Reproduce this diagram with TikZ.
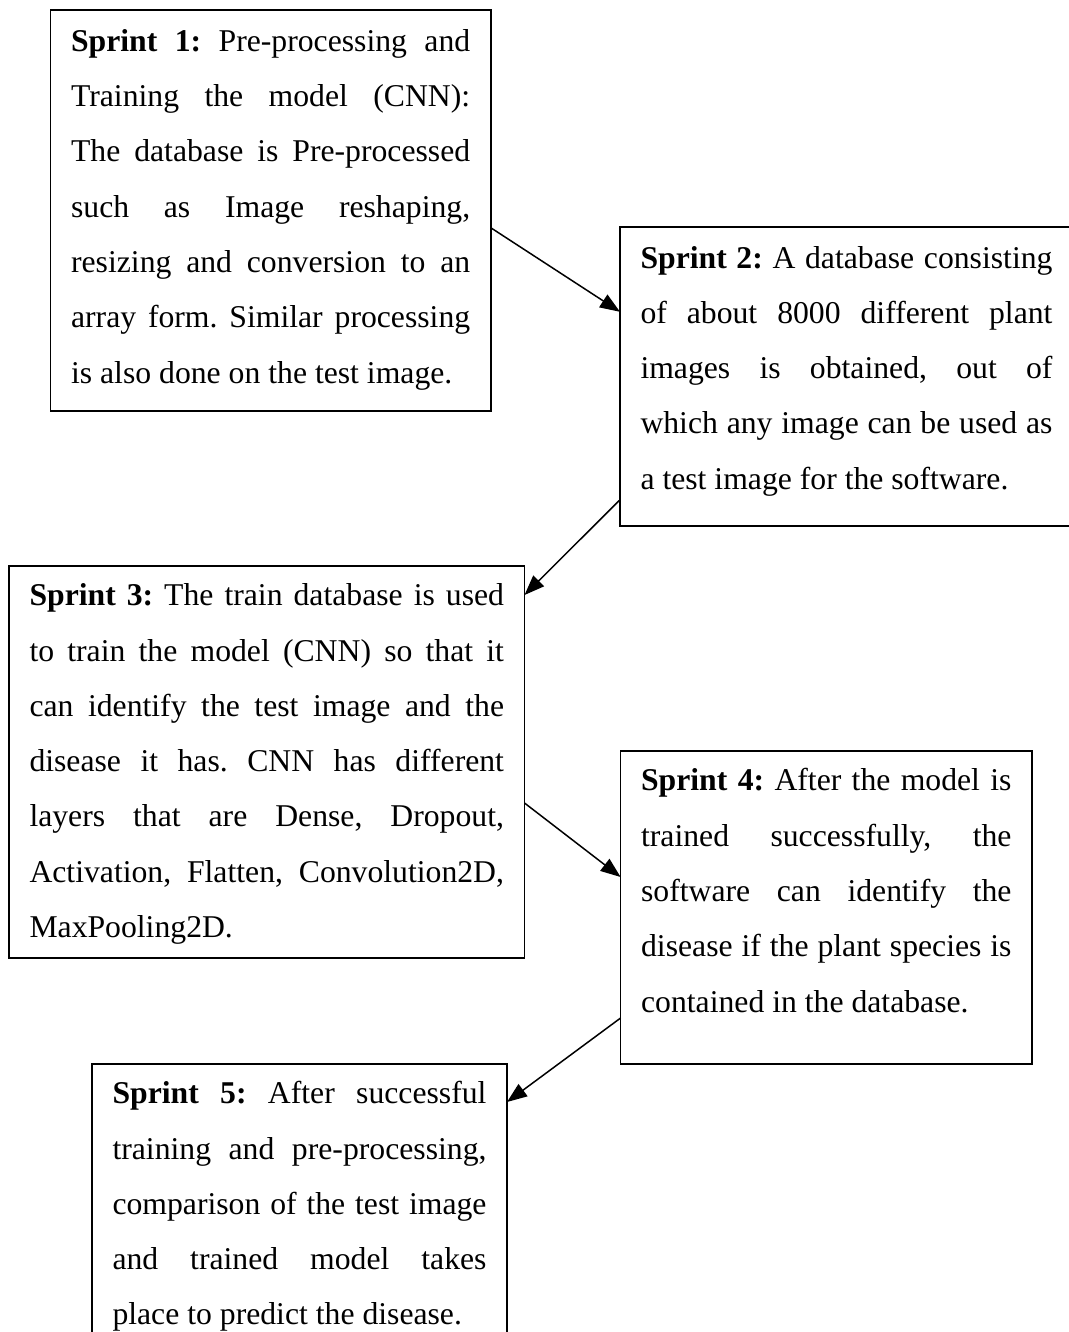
\documentclass[tikz,border=0pt]{standalone}
\usepackage{fontspec}
\setmainfont{Liberation Serif}
\usetikzlibrary{arrows.meta}
\newcommand\jl[1]{\hbox to\hsize{\strut #1}}
\newcommand\lastln[1]{\hbox to\hsize{\strut #1\hfil}}
\tikzset{
  sbox/.style={draw=black, line width=1.6pt, rectangle, anchor=north west, inner sep=0pt, outer sep=0pt},
  stext/.style={anchor=north west, inner sep=0pt, outer sep=0pt, font=\fontsize{31.7pt}{55.3pt}\selectfont\frenchspacing},
  flow/.style={line width=1.5pt, -{Triangle[length=20pt,width=15pt]}},
}
\begin{document}
\begin{tikzpicture}[x=1pt,y=-1pt]
\useasboundingbox (0,0) rectangle (1068,1332);
\fill[white] (0,0) rectangle (1068,1332);

% boxes
\node[sbox, minimum width=440.1pt, minimum height=400.7pt] (s1) at (50.6,10) {};
\node[sbox, minimum width=460pt, minimum height=298.7pt] (s2) at (620,227.3) {};
\node[sbox, minimum width=515.5pt, minimum height=392pt] (s3) at (9,566) {};
\node[sbox, minimum width=411.4pt, minimum height=313.3pt] (s4) at (620.6,750.7) {};
\node[sbox, minimum width=415pt, minimum height=336pt] (s5) at (92,1064) {};

% texts
\node[stext] (t1) at ([xshift=20.5pt,yshift=-2.5pt]s1.north west) {\parbox[t]{399.1pt}{%
\jl{\textbf{Sprint 1:} Pre-processing and}
\jl{Training the model (CNN):}
\jl{The database is Pre-processed}
\jl{such as Image reshaping,}
\jl{resizing and conversion to an}
\jl{array form. Similar processing}
\lastln{is also done on the test image.}}};

\node[stext] (t2) at ([xshift=20.5pt,yshift=-2pt]s2.north west) {\parbox[t]{412pt}{%
\jl{\textbf{Sprint 2:} A database consisting}
\jl{of about 8000 different plant}
\jl{images is obtained, out of}
\jl{which any image can be used as}
\lastln{a test image for the software.}}};

\node[stext] (t3) at ([xshift=20.5pt,yshift=-1pt]s3.north west) {\parbox[t]{474.5pt}{%
\jl{\textbf{Sprint 3:} The train database is used}
\jl{to train the model (CNN) so that it}
\jl{can identify the test image and the}
\jl{disease it has. CNN has different}
\jl{layers that are Dense, Dropout,}
\jl{Activation, Flatten, Convolution2D,}
\lastln{MaxPooling2D.}}};

\node[stext] (t4) at ([xshift=20.5pt,yshift=-1.5pt]s4.north west) {\parbox[t]{370.4pt}{%
\jl{\textbf{Sprint 4:} After the model is}
\jl{trained successfully, the}
\jl{software can identify the}
\jl{disease if the plant species is}
\lastln{contained in the database.}}};

\node[stext] (t5) at ([xshift=20.5pt,yshift=-1pt]s5.north west) {\parbox[t]{374pt}{%
\jl{\textbf{Sprint 5:} After successful}
\jl{training and pre-processing,}
\jl{comparison of the test image}
\jl{and trained model takes}
\lastln{place to predict the disease.}}};

% connectors
\draw[flow] ([yshift=-217.7pt]s1.north east) -- ([yshift=-84.5pt]s2.north west);
\draw[flow] ([yshift=-272.5pt]s2.north west) -- ([yshift=-29pt]s3.north east);
\draw[flow] ([yshift=-237pt]s3.north east) -- ([yshift=-126.3pt]s4.north west);
\draw[flow] ([yshift=-267.3pt]s4.north west) -- ([yshift=-38pt]s5.north east);
\end{tikzpicture}
\end{document}
